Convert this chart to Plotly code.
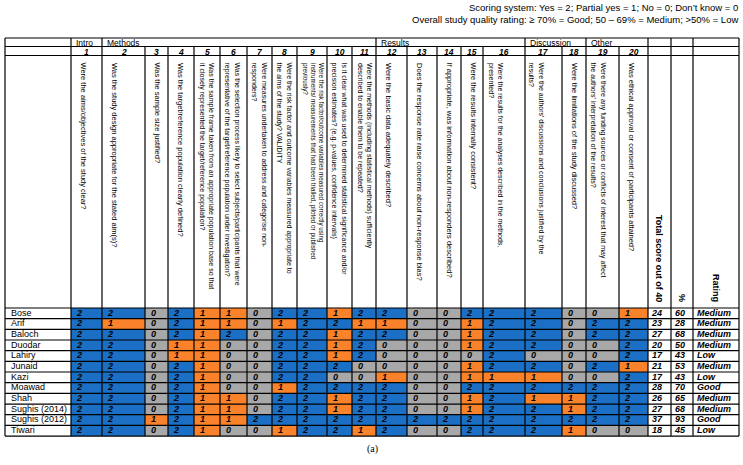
import plotly.graph_objects as go

# ---------------- data ----------------
studies = ["Bose", "Arif", "Baloch", "Duodar", "Lahiry", "Junaid", "Kazi",
           "Moawad", "Shah", "Sughis (2014)", "Sughis (2012)", "Tiwari"]
question_numbers = list(range(1, 21))
sections = ["Intro", "Methods", "Results", "Discussion", "Other"]
section_first_q = [1, 2, 12, 17, 19]
questions = [
    "Were the aims/objectives of the study clear?",
    "Was the study design appropriate for the stated aim(s)?",
    "Was the sample size justified?",
    "Was the target/reference population clearly defined?",
    "Was the sample frame taken from an appropriate population base so that<br>it closely represented the target/reference population?",
    "Was the selection process likely to select subjects/participants that were<br>representative of the target/reference population under investigation?",
    "Were measures undertaken to address and categorise non-<br>responders?",
    "Were the risk factor and outcome variables measured appropriate to<br>the aims of the study? VALIDITY",
    "Were the risk factor/outcome variables measured correctly using<br>instruments/ measurements that had been trialled, piloted or published<br>previously?",
    "Is it clear what was used to determined statistical significance and/or<br>precision estimates? (e.g. p-values, confidence intervals)",
    "Were the methods (including statistical methods) sufficiently<br>described to enable them to be repeated?",
    "Were the basic data adequately described?",
    "Does the response rate raise concerns about non-response bias?",
    "If appropriate, was information about non-responders described?",
    "Were the results internally consistent?",
    "Were the results for the analyses described in the methods,<br>presented?",
    "Were the authors' discussions and conclusions justified by the<br>results?",
    "Were the limitations of the study discussed?",
    "Were there any funding sources or conflicts of interest that may affect<br>the authors' interpretation of the results?",
    "Was ethical approval or consent of participants attained?",
]
scores_bose = [2, 2, 0, 2, 1, 1, 0, 2, 2, 1, 2, 2, 0, 0, 2, 2, 2, 0, 0, 1]
scores_arif = [2, 1, 0, 2, 1, 1, 0, 1, 2, 2, 1, 1, 0, 0, 1, 2, 2, 0, 2, 2]
scores_baloch = [2, 2, 0, 2, 1, 2, 0, 2, 2, 1, 2, 2, 0, 0, 1, 2, 2, 0, 2, 2]
scores_duodar = [2, 2, 0, 1, 1, 0, 0, 2, 2, 1, 2, 0, 0, 0, 1, 2, 2, 0, 0, 2]
scores_lahiry = [2, 2, 0, 1, 1, 0, 0, 2, 2, 1, 2, 0, 0, 0, 0, 2, 0, 0, 0, 2]
scores_junaid = [2, 2, 0, 2, 1, 0, 0, 2, 2, 2, 0, 0, 0, 0, 1, 2, 2, 0, 2, 1]
scores_kazi = [2, 2, 0, 2, 1, 0, 0, 2, 2, 0, 0, 1, 0, 0, 1, 1, 1, 0, 0, 2]
scores_moawad = [2, 2, 0, 2, 1, 0, 0, 1, 2, 2, 2, 2, 0, 0, 2, 2, 2, 2, 2, 2]
scores_shah = [2, 2, 0, 2, 1, 1, 0, 2, 2, 1, 2, 2, 0, 0, 1, 2, 1, 1, 2, 2]
scores_sughis2014 = [2, 2, 0, 2, 1, 1, 0, 2, 2, 1, 2, 2, 0, 0, 1, 2, 2, 1, 2, 2]
scores_sughis2012 = [2, 2, 1, 2, 1, 1, 2, 2, 2, 2, 2, 2, 2, 2, 2, 2, 2, 2, 2, 2]
scores_tiwari = [2, 2, 0, 2, 1, 0, 0, 1, 2, 2, 1, 2, 0, 0, 2, 2, 2, 1, 0, 0]
totals = [24, 23, 27, 20, 17, 21, 17, 28, 26, 27, 37, 18]
percents = [60, 28, 68, 50, 43, 53, 43, 70, 65, 68, 93, 45]
ratings = ["Medium", "Medium", "Medium", "Medium", "Low", "Medium", "Low",
           "Good", "Medium", "Medium", "Good", "Low"]
scoring_note = "Scoring system: Yes = 2; Partial yes = 1; No = 0; Don\u2019t know = 0"
rating_note = "Overall study quality rating: \u2265 70% = Good; 50 \u2013 69% = Medium; >50% = Low"
caption = "(a)"

scores = [scores_bose, scores_arif, scores_baloch, scores_duodar, scores_lahiry,
          scores_junaid, scores_kazi, scores_moawad, scores_shah,
          scores_sughis2014, scores_sughis2012, scores_tiwari]

# ---------------- layout geometry (page pixel space) ----------------
W, H = 743, 465
col_edges = [5, 71, 102, 145, 168, 194, 220, 247, 272, 297, 327, 352, 376,
             407, 437, 461, 483, 525, 562, 586, 619, 648, 671, 693, 739]
top, r1, r2, qbot = 38, 46.5, 55.5, 308
row_h = 10.67
nrows = len(studies)
row_edges = [qbot + i * row_h for i in range(nrows + 1)]
row_mid = [(row_edges[i] + row_edges[i + 1]) / 2 for i in range(nrows)]
q_left = col_edges[1:21]
q_right = col_edges[2:22]

BLUE, ORANGE, GRAY = "#1b6fc4", "#f9822b", "#a8a8a8"
SANS = "Liberation Sans, Arial, sans-serif"
NARROW = "Liberation Sans Narrow, Arial Narrow, Liberation Sans, Arial, sans-serif"

fig = go.Figure()

# coloured score cells
fig.add_trace(go.Heatmap(
    z=scores, x=col_edges[1:22], y=row_edges,
    zmin=0, zmax=2, showscale=False, hoverinfo="skip",
    colorscale=[[0, GRAY], [0.3333, GRAY], [0.3334, ORANGE], [0.6666, ORANGE],
                [0.6667, BLUE], [1, BLUE]],
))

# score text
sx, sy, st = [], [], []
for i, row in enumerate(scores):
    for j, v in enumerate(row):
        sx.append(q_left[j] + 6)
        sy.append(row_mid[i])
        st.append(f"<b><i>{v}</i></b>")
fig.add_trace(go.Scatter(x=sx, y=sy, text=st, mode="text", textposition="middle right",
                         textfont=dict(family=SANS, size=9, color="black"),
                         hoverinfo="skip", showlegend=False))

# study names
fig.add_trace(go.Scatter(x=[col_edges[0] + 6] * nrows, y=row_mid, text=studies, mode="text",
                         textposition="middle right",
                         textfont=dict(family=SANS, size=9, color="black"),
                         hoverinfo="skip", showlegend=False))

# totals, %, rating
for k, vals in enumerate([totals, percents, ratings]):
    fig.add_trace(go.Scatter(x=[col_edges[21 + k] + 4] * nrows, y=row_mid,
                             text=[f"<b><i>{v}</i></b>" for v in vals], mode="text",
                             textposition="middle right",
                             textfont=dict(family=SANS, size=9, color="black"),
                             hoverinfo="skip", showlegend=False))

# ---------------- grid lines ----------------
shapes = []
line = dict(color="black", width=1.2)
for y in [top, r1, r2, qbot] + row_edges[1:]:
    shapes.append(dict(type="line", x0=col_edges[0], x1=col_edges[-1], y0=y, y1=y,
                       xref="x", yref="y", line=line, layer="above"))
group_edges = [col_edges[0], col_edges[1]] + [q_left[q - 1] for q in section_first_q[1:]] + col_edges[21:]
for x in set(group_edges + [col_edges[2]]):
    shapes.append(dict(type="line", x0=x, x1=x, y0=top, y1=r1, xref="x", yref="y",
                       line=line, layer="above"))
for x in col_edges:
    shapes.append(dict(type="line", x0=x, x1=x, y0=r1, y1=row_edges[-1], xref="x", yref="y",
                       line=line, layer="above"))

# ---------------- annotations ----------------
ann = []
ann.append(dict(x=740, y=7, text=scoring_note, xanchor="right", yanchor="middle",
                showarrow=False, font=dict(family=NARROW, size=9.5, color="black")))
ann.append(dict(x=740, y=19, text=rating_note, xanchor="right", yanchor="middle",
                showarrow=False, font=dict(family=NARROW, size=9.5, color="black")))
for s, q in zip(sections, section_first_q):
    ann.append(dict(x=q_left[q - 1] + 3, y=(top + r1) / 2 + 0.5, text=s, xanchor="left",
                    yanchor="middle", showarrow=False,
                    font=dict(family=NARROW, size=8.5, color="black")))
for j, n in enumerate(question_numbers):
    ann.append(dict(x=(q_left[j] + q_right[j]) / 2, y=(r1 + r2) / 2 + 0.5,
                    text=f"<b><i>{n}</i></b>", xanchor="center", yanchor="middle",
                    showarrow=False, font=dict(family=SANS, size=8.5, color="black")))
for j, q in enumerate(questions):
    nlines = q.count("<br>") + 1
    size = 7.5 if nlines == 1 else (7 if nlines == 2 else 6.3)
    ann.append(dict(x=q_left[j] + (6 if nlines == 1 else 2), y=r2 + 5, text=q, textangle=90,
                    xanchor="left", yanchor="top", align="left", showarrow=False,
                    font=dict(family=SANS, size=size, color="black")))
for k, lab in enumerate(["Total score out of 40", "%", "Rating"]):
    ann.append(dict(x=(col_edges[21 + k] + col_edges[22 + k]) / 2, y=qbot - 4,
                    text=f"<b>{lab}</b>", textangle=90, xanchor="center", yanchor="bottom",
                    showarrow=False, font=dict(family=SANS, size=9, color="black")))
ann.append(dict(x=372, y=449, text=caption, xanchor="center", yanchor="middle", showarrow=False,
                font=dict(family="Liberation Serif, Times New Roman, serif", size=10, color="black")))

fig.update_layout(
    width=W, height=H, autosize=False,
    margin=dict(l=0, r=0, t=0, b=0, pad=0),
    paper_bgcolor="white", plot_bgcolor="white",
    xaxis=dict(range=[0, W], visible=False, fixedrange=True),
    yaxis=dict(range=[H, 0], visible=False, fixedrange=True),
    shapes=shapes, annotations=ann, showlegend=False,
)

# remove the default page margin so the 743x465 figure fills the window exactly
fig.write_html("out.html", config=dict(displayModeBar=False),
               post_script="document.body.style.margin='0';document.body.style.overflow='hidden';")
